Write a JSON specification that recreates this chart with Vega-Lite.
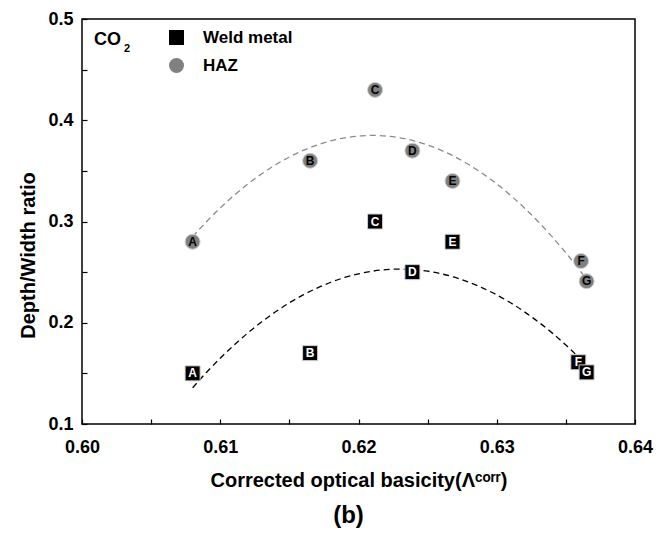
{
  "$schema": "https://vega.github.io/schema/vega-lite/v6.json",
  "autosize": "none",
  "width": 553,
  "height": 405,
  "padding": {"left": 82, "top": 19, "right": 25, "bottom": 109},
  "background": "white",
  "config": {
    "view": {"stroke": "black", "strokeWidth": 1.5},
    "font": "Liberation Sans",
    "axis": {
      "domain": false,
      "grid": false,
      "tickColor": "black",
      "tickWidth": 1.2,
      "tickSize": -5,
      "labelFont": "Liberation Sans",
      "labelFontWeight": "bold",
      "labelFontSize": 18,
      "labelColor": "black",
      "titleFont": "Liberation Sans",
      "titleFontWeight": "bold",
      "titleFontSize": 20,
      "titleColor": "black",
      "labelFlush": false,
      "labelOverlap": false
    },
    "legend": {
      "labelFont": "Liberation Sans",
      "labelFontWeight": "bold",
      "labelFontSize": 17,
      "labelColor": "black"
    }
  },
  "title": {
    "text": "(b)",
    "orient": "bottom",
    "anchor": "middle",
    "frame": "group",
    "fontSize": 24,
    "fontWeight": "bold",
    "font": "Liberation Sans",
    "color": "black",
    "offset": 14,
    "dx": -10
  },
  "datasets": {
    "points": [
      {"x": 0.6080, "y": 0.280, "series": "HAZ", "label": "A"},
      {"x": 0.6165, "y": 0.360, "series": "HAZ", "label": "B"},
      {"x": 0.6212, "y": 0.430, "series": "HAZ", "label": "C"},
      {"x": 0.6239, "y": 0.370, "series": "HAZ", "label": "D"},
      {"x": 0.6268, "y": 0.340, "series": "HAZ", "label": "E"},
      {"x": 0.6361, "y": 0.261, "series": "HAZ", "label": "F"},
      {"x": 0.6365, "y": 0.241, "series": "HAZ", "label": "G"},
      {"x": 0.6080, "y": 0.150, "series": "Weld metal", "label": "A"},
      {"x": 0.6165, "y": 0.170, "series": "Weld metal", "label": "B"},
      {"x": 0.6212, "y": 0.300, "series": "Weld metal", "label": "C"},
      {"x": 0.6239, "y": 0.250, "series": "Weld metal", "label": "D"},
      {"x": 0.6268, "y": 0.280, "series": "Weld metal", "label": "E"},
      {"x": 0.6359, "y": 0.161, "series": "Weld metal", "label": "F"},
      {"x": 0.6365, "y": 0.151, "series": "Weld metal", "label": "G"}
    ],
    "curves": [
      {"x": 0.608, "y": 0.2850, "series": "HAZ"},
      {"x": 0.609, "y": 0.2998, "series": "HAZ"},
      {"x": 0.610, "y": 0.3134, "series": "HAZ"},
      {"x": 0.611, "y": 0.3258, "series": "HAZ"},
      {"x": 0.612, "y": 0.3371, "series": "HAZ"},
      {"x": 0.613, "y": 0.3471, "series": "HAZ"},
      {"x": 0.614, "y": 0.3560, "series": "HAZ"},
      {"x": 0.615, "y": 0.3637, "series": "HAZ"},
      {"x": 0.616, "y": 0.3702, "series": "HAZ"},
      {"x": 0.617, "y": 0.3755, "series": "HAZ"},
      {"x": 0.618, "y": 0.3797, "series": "HAZ"},
      {"x": 0.619, "y": 0.3826, "series": "HAZ"},
      {"x": 0.620, "y": 0.3844, "series": "HAZ"},
      {"x": 0.621, "y": 0.3850, "series": "HAZ"},
      {"x": 0.622, "y": 0.3844, "series": "HAZ"},
      {"x": 0.623, "y": 0.3826, "series": "HAZ"},
      {"x": 0.624, "y": 0.3797, "series": "HAZ"},
      {"x": 0.625, "y": 0.3755, "series": "HAZ"},
      {"x": 0.626, "y": 0.3702, "series": "HAZ"},
      {"x": 0.627, "y": 0.3637, "series": "HAZ"},
      {"x": 0.628, "y": 0.3560, "series": "HAZ"},
      {"x": 0.629, "y": 0.3471, "series": "HAZ"},
      {"x": 0.630, "y": 0.3371, "series": "HAZ"},
      {"x": 0.631, "y": 0.3258, "series": "HAZ"},
      {"x": 0.632, "y": 0.3134, "series": "HAZ"},
      {"x": 0.633, "y": 0.2998, "series": "HAZ"},
      {"x": 0.634, "y": 0.2850, "series": "HAZ"},
      {"x": 0.635, "y": 0.2690, "series": "HAZ"},
      {"x": 0.636, "y": 0.2519, "series": "HAZ"},
      {"x": 0.6365, "y": 0.2428, "series": "HAZ"},
      {"x": 0.608, "y": 0.1358, "series": "Weld metal"},
      {"x": 0.609, "y": 0.1509, "series": "Weld metal"},
      {"x": 0.610, "y": 0.1650, "series": "Weld metal"},
      {"x": 0.611, "y": 0.1780, "series": "Weld metal"},
      {"x": 0.612, "y": 0.1900, "series": "Weld metal"},
      {"x": 0.613, "y": 0.2009, "series": "Weld metal"},
      {"x": 0.614, "y": 0.2108, "series": "Weld metal"},
      {"x": 0.615, "y": 0.2197, "series": "Weld metal"},
      {"x": 0.616, "y": 0.2275, "series": "Weld metal"},
      {"x": 0.617, "y": 0.2342, "series": "Weld metal"},
      {"x": 0.618, "y": 0.2400, "series": "Weld metal"},
      {"x": 0.619, "y": 0.2447, "series": "Weld metal"},
      {"x": 0.620, "y": 0.2483, "series": "Weld metal"},
      {"x": 0.621, "y": 0.2509, "series": "Weld metal"},
      {"x": 0.622, "y": 0.2525, "series": "Weld metal"},
      {"x": 0.623, "y": 0.2530, "series": "Weld metal"},
      {"x": 0.624, "y": 0.2525, "series": "Weld metal"},
      {"x": 0.625, "y": 0.2509, "series": "Weld metal"},
      {"x": 0.626, "y": 0.2483, "series": "Weld metal"},
      {"x": 0.627, "y": 0.2447, "series": "Weld metal"},
      {"x": 0.628, "y": 0.2400, "series": "Weld metal"},
      {"x": 0.629, "y": 0.2342, "series": "Weld metal"},
      {"x": 0.630, "y": 0.2275, "series": "Weld metal"},
      {"x": 0.631, "y": 0.2197, "series": "Weld metal"},
      {"x": 0.632, "y": 0.2108, "series": "Weld metal"},
      {"x": 0.633, "y": 0.2009, "series": "Weld metal"},
      {"x": 0.634, "y": 0.1900, "series": "Weld metal"},
      {"x": 0.635, "y": 0.1780, "series": "Weld metal"},
      {"x": 0.636, "y": 0.1650, "series": "Weld metal"}
    ],
    "annot": [
      {"x": 0.60087, "y": 0.4795, "text": "CO"}
    ]
  },
  "layer": [
    {
      "data": {"name": "curves"},
      "transform": [{"filter": "datum.series === 'HAZ'"}],
      "mark": {"type": "line", "strokeDash": [6, 4], "strokeWidth": 1.3, "interpolate": "monotone", "color": "#8a8a8a"},
      "encoding": {
        "x": {
          "field": "x", "type": "quantitative",
          "scale": {"domain": [0.6, 0.64], "nice": false, "zero": false},
          "axis": {
            "title": "Corrected optical basicity(Λᶜᵒʳʳ)",
            "values": [0.6, 0.605, 0.61, 0.615, 0.62, 0.625, 0.63, 0.635, 0.64],
            "labelExpr": "abs(datum.value*100 - round(datum.value*100)) < 0.01 ? format(datum.value, '.2f') : ''",
            "labelPadding": 19,
            "titlePadding": 14
          }
        },
        "y": {
          "field": "y", "type": "quantitative",
          "scale": {"domain": [0.1, 0.5], "nice": false, "zero": false},
          "axis": {
            "title": "Depth/Width ratio",
            "values": [0.1, 0.15, 0.2, 0.25, 0.3, 0.35, 0.4, 0.45, 0.5],
            "labelExpr": "abs(datum.value*10 - round(datum.value*10)) < 0.01 ? format(datum.value, '.1f') : ''",
            "labelPadding": 14,
            "titleY": 236,
            "titleX": -44
          }
        }
      }
    },
    {
      "data": {"name": "curves"},
      "transform": [{"filter": "datum.series === 'Weld metal'"}],
      "mark": {"type": "line", "strokeDash": [6, 4], "strokeWidth": 1.3, "interpolate": "monotone", "color": "black"},
      "encoding": {
        "x": {"field": "x", "type": "quantitative"},
        "y": {"field": "y", "type": "quantitative"}
      }
    },
    {
      "data": {"name": "points"},
      "mark": {"type": "point", "filled": true, "opacity": 1, "stroke": "#d0d0d0", "strokeWidth": 1},
      "encoding": {
        "x": {"field": "x", "type": "quantitative"},
        "y": {"field": "y", "type": "quantitative"},
        "color": {
          "field": "series", "type": "nominal",
          "scale": {"domain": ["Weld metal", "HAZ"], "range": ["black", "#808080"]},
          "legend": {
            "orient": "none",
            "legendX": 86,
            "legendY": 10,
            "title": null,
            "symbolSize": 225,
            "symbolStrokeWidth": 0,
            "labelOffset": 18,
            "rowPadding": 10,
            "symbolOpacity": 1
          }
        },
        "shape": {
          "field": "series", "type": "nominal",
          "scale": {"domain": ["Weld metal", "HAZ"], "range": ["square", "circle"]}
        },
        "size": {"value": 225}
      }
    },
    {
      "data": {"name": "points"},
      "transform": [{"filter": "datum.series === 'HAZ'"}],
      "mark": {"type": "text", "fontWeight": "bold", "fontSize": 12, "font": "Liberation Sans", "color": "black", "baseline": "middle", "align": "center"},
      "encoding": {
        "x": {"field": "x", "type": "quantitative"},
        "y": {"field": "y", "type": "quantitative"},
        "text": {"field": "label"}
      }
    },
    {
      "data": {"name": "points"},
      "transform": [{"filter": "datum.series === 'Weld metal'"}],
      "mark": {"type": "text", "fontWeight": "bold", "fontSize": 12, "font": "Liberation Sans", "color": "white", "baseline": "middle", "align": "center"},
      "encoding": {
        "x": {"field": "x", "type": "quantitative"},
        "y": {"field": "y", "type": "quantitative"},
        "text": {"field": "label"}
      }
    },
    {
      "data": {"name": "annot"},
      "mark": {"type": "text", "fontWeight": "bold", "fontSize": 18, "font": "Liberation Sans", "color": "black", "baseline": "middle", "align": "left"},
      "encoding": {
        "x": {"field": "x", "type": "quantitative"},
        "y": {"field": "y", "type": "quantitative"},
        "text": {"field": "text"}
      }
    },
    {
      "data": {"name": "annot"},
      "mark": {"type": "text", "fontWeight": "bold", "fontSize": 11, "font": "Liberation Sans", "color": "black", "baseline": "middle", "align": "left", "dx": 30, "dy": 9},
      "encoding": {
        "x": {"field": "x", "type": "quantitative"},
        "y": {"field": "y", "type": "quantitative"},
        "text": {"value": "2"}
      }
    }
  ]
}
